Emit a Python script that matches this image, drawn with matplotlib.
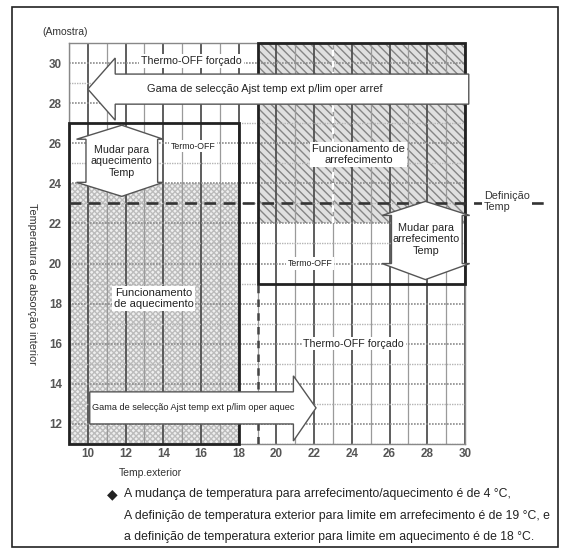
import matplotlib
matplotlib.use("Agg")
import matplotlib.pyplot as plt
from matplotlib.patches import Rectangle, Polygon

plt.rcParams["font.family"] = ["Liberation Sans", "DejaVu Sans"]

# ── Dados ─────────────────────────────────────────────────
x_lim = (9, 30)
y_lim = (11, 31)
x_ticks = [10, 12, 14, 16, 18, 20, 22, 24, 26, 28, 30]
y_ticks = [12, 14, 16, 18, 20, 22, 24, 26, 28, 30]
x_minor = [9, 11, 13, 15, 17, 19, 21, 23, 25, 27, 29]
y_minor = [11, 13, 15, 17, 19, 21, 23, 25, 27, 29]

heat_box = (9, 18, 11, 27)        # x0, x1, y0, y1
heat_fill_top = 24
cool_box = (19, 30, 19, 31)
cool_fill_bottom = 22
set_temp = 23
cool_limit = 19

# setas (polígonos em coordenadas de temperatura)
arrow_arref = [(10, 28.7), (11.45, 30.25), (11.45, 29.45), (30.2, 29.45),
               (30.2, 27.95), (11.45, 27.95), (11.45, 27.15)]
arrow_aquec = [(22.1, 12.8), (20.9, 14.4), (20.9, 13.6), (10.1, 13.6),
               (10.1, 12.0), (20.9, 12.0), (20.9, 11.15)]
arrow_mud_aq = [(11.8, 26.9), (14.0, 26.2), (13.7, 26.2), (13.7, 24.05),
                (14.0, 24.05), (11.8, 23.35), (9.4, 24.05), (9.9, 24.05),
                (9.9, 26.2), (9.4, 26.2)]
arrow_mud_ar = [(27.9, 23.1), (30.25, 22.4), (29.85, 22.4), (29.85, 20.0),
                (30.25, 20.0), (27.9, 19.2), (25.6, 20.0), (26.1, 20.0),
                (26.1, 22.4), (25.6, 22.4)]

region_labels = [
    ("Thermo-OFF forçado", 15.5, 30.1, 7.7),
    ("Gama de selecção Ajst temp ext p/lim oper arref", 19.4, 28.7, 7.9),
    ("Termo-OFF", 15.6, 25.85, 6.3),
    ("Funcionamento de\narrefecimento", 24.35, 25.45, 8.0),
    ("Termo-OFF", 21.8, 20.0, 6.3),
    ("Funcionamento\nde aquecimento", 13.5, 18.25, 8.0),
    ("Thermo-OFF forçado", 24.1, 16.0, 7.7),
]
arrow_labels = [
    ("Gama de selecção Ajst temp ext p/lim oper aquec", 15.6, 12.8, 6.6),
    ("Mudar para\naquecimento\nTemp", 11.8, 25.1, 7.7),
    ("Mudar para\narrefecimento\nTemp", 27.95, 21.2, 7.8),
]
note_lines = [
    "A mudança de temperatura para arrefecimento/aquecimento é de 4 °C,",
    "A definição de temperatura exterior para limite em arrefecimento é de 19 °C, e",
    "a definição de temperatura exterior para limite em aquecimento é de 18 °C.",
]

# ── Figura ────────────────────────────────────────────────
fig = plt.figure(figsize=(5.63, 5.49), dpi=100)
ax = fig.add_axes([69 / 563, 1 - 444 / 549, 396 / 563, 401 / 549])
ax.set_xlim(*x_lim)
ax.set_ylim(*y_lim)
ax.set_xticks(x_ticks)
ax.set_yticks(y_ticks)
ax.set_xticks(x_minor, minor=True)
ax.set_yticks(y_minor, minor=True)
ax.tick_params(which="both", length=0)
ax.tick_params(axis="x", pad=3)
ax.tick_params(axis="y", pad=5)
for lab in ax.get_xticklabels() + ax.get_yticklabels():
    lab.set_fontsize(8.4)
    lab.set_fontweight("bold")
    lab.set_color("#555555")
for s in ax.spines.values():
    s.set_color("#888888")
    s.set_linewidth(1.0)

ax.set_axisbelow("line")
ax.grid(which="major", axis="x", color="#505050", lw=1.3)
ax.grid(which="minor", axis="x", color="#9a9a9a", lw=0.9)
ax.grid(which="major", axis="y", color="#8c8c8c", lw=1.2, ls=(0, (1, 0.8)))
ax.grid(which="minor", axis="y", color="#b4b4b4", lw=1.0, ls=(0, (1, 0.8)))

# regiões preenchidas
hx0, hx1, hy0, hy1 = heat_box
ax.add_patch(Rectangle((hx0, hy0), hx1 - hx0, heat_fill_top - hy0,
                       facecolor="#efefef", edgecolor="#bcbcbc", lw=0,
                       hatch="xxxxxx", zorder=1))
cx0, cx1, cy0, cy1 = cool_box
ax.add_patch(Rectangle((cx0, cool_fill_bottom), cx1 - cx0, cy1 - cool_fill_bottom,
                       facecolor="#e0e0e0", edgecolor="#858585", lw=0,
                       hatch="\\\\\\\\", zorder=1))
ax.plot([23, 23], [cool_fill_bottom, cy1], color="white", lw=1.6,
        ls=(0, (3, 2)), zorder=2.6)

# contornos
ax.add_patch(Rectangle((hx0, hy0), hx1 - hx0, hy1 - hy0, fill=False,
                       edgecolor="#222222", lw=2.0, zorder=3, clip_on=False))
ax.add_patch(Rectangle((cx0, cy0), cx1 - cx0, cy1 - cy0, fill=False,
                       edgecolor="#222222", lw=2.0, zorder=3, clip_on=False))
ax.plot([cool_limit, cool_limit], [y_lim[0], cy0], color="#444444", lw=1.8,
        ls=(0, (3, 2.5)), zorder=3)

# linha da temperatura definida (sai do gráfico para a direita)
ax.plot([x_lim[0], 34.4], [set_temp, set_temp], color="#333333", lw=1.9,
        ls=(0, (4.5, 2.8)), zorder=3, clip_on=False)
ax.text(31.0, set_temp + 0.1, "Definição\nTemp", fontsize=7.8, color="#333333",
        ha="left", va="center", linespacing=1.2, zorder=6,
        bbox=dict(facecolor="white", edgecolor="none", pad=1.5))

# setas
for pts in (arrow_arref, arrow_aquec, arrow_mud_aq, arrow_mud_ar):
    ax.add_patch(Polygon(pts, closed=True, facecolor="white",
                         edgecolor="#555555", lw=1.0, zorder=4, clip_on=False))

for txt, x, y, fs in region_labels:
    ax.text(x, y, txt, fontsize=fs, color="#222222", ha="center",
            va="center", linespacing=1.15, zorder=6,
            bbox=dict(facecolor="white", edgecolor="none", pad=1.2))
for txt, x, y, fs in arrow_labels:
    ax.text(x, y, txt, fontsize=fs, color="#222222", ha="center",
            va="center", linespacing=1.2, zorder=6)

# textos fora dos eixos
fig.text(42 / 563, 1 - 32 / 549, "(Amostra)", fontsize=7.5, color="#333333",
         ha="left", va="center")
fig.text(32 / 563, 1 - 284 / 549, "Temperatura de absorção interior",
         fontsize=7.8, color="#333333", rotation=270, ha="center", va="center")
fig.text(150 / 563, 1 - 473 / 549, "Temp.exterior", fontsize=7.5,
         color="#333333", ha="center", va="center")

fig.text(112 / 563, 1 - 494 / 549, "◆", fontsize=10, family="DejaVu Sans",
         color="#222222", ha="center", va="center")
for i, line in enumerate(note_lines):
    fig.text(124 / 563, 1 - (494 + 21.5 * i) / 549, line, fontsize=8.8,
             color="#222222", ha="left", va="center")

# moldura exterior
fig.add_artist(Rectangle((12 / 563, 0.003), 546 / 563, 0.984, fill=False,
                         edgecolor="#222222", lw=1.2,
                         transform=fig.transFigure))

fig.savefig("out.png", dpi=100)
